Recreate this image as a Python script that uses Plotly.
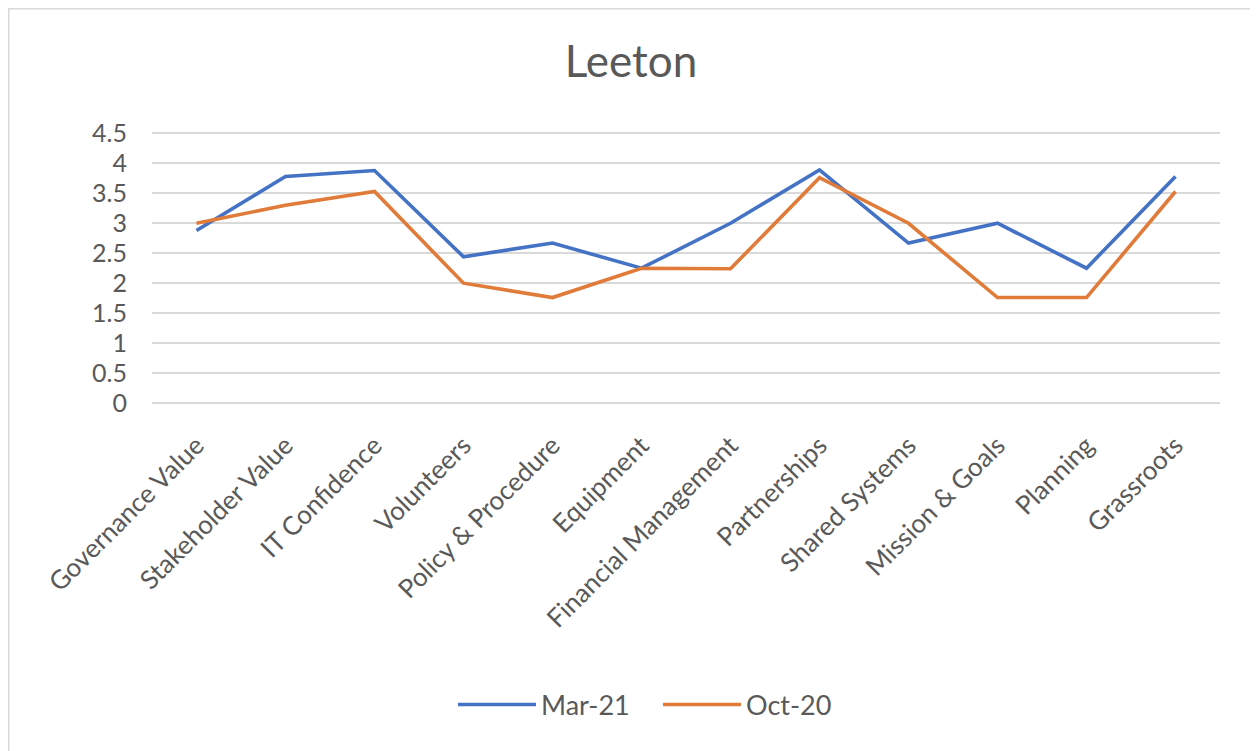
import plotly.graph_objects as go

categories = ["Governance Value", "Stakeholder Value", "IT Confidence", "Volunteers",
              "Policy & Procedure", "Equipment", "Financial Management", "Partnerships",
              "Shared Systems", "Mission & Goals", "Planning", "Grassroots"]
mar21 = [2.88, 3.78, 3.88, 2.44, 2.67, 2.25, 3.0, 3.89, 2.67, 3.0, 2.25, 3.78]
oct20 = [3.0, 3.3, 3.53, 2.0, 1.76, 2.25, 2.24, 3.76, 3.0, 1.76, 1.76, 3.53]
series_names = ["Mar-21", "Oct-20"]
y_ticks = [0, 0.5, 1, 1.5, 2, 2.5, 3, 3.5, 4, 4.5]

FONT = "Lato"
GRAY = "#595959"
GRID = "#D9D9D9"

fig = go.Figure()
fig.add_trace(go.Scatter(x=categories, y=mar21, mode="lines", name=series_names[0],
                         line=dict(color="#4472C4", width=3.6)))
fig.add_trace(go.Scatter(x=categories, y=oct20, mode="lines", name=series_names[1],
                         line=dict(color="#E07B39", width=3.6)))

# page has an 8px body margin; figure coordinates = page coordinates - 8
W, H = 1250, 743
L, R, T, B = 144, 38, 123, 348
pw = W - L - R
ph = H - T - B

fig.update_layout(
    width=W, height=H,
    margin=dict(l=L, r=R, t=T, b=B, autoexpand=False),
    paper_bgcolor="white", plot_bgcolor="white",
    font=dict(family=FONT, color=GRAY, size=24),
    title=dict(text="Leeton", x=623 / W, xref="container", xanchor="center",
               y=1 - 54 / H, yref="container", yanchor="middle",
               font=dict(family=FONT, size=44, color=GRAY)),
    showlegend=True,
    legend=dict(orientation="h", x=650 / W, xanchor="center", xref="container",
                y=1 - 697 / H, yref="container", yanchor="middle",
                font=dict(family=FONT, size=27, color=GRAY),
                itemwidth=78, entrywidth=112, bgcolor="rgba(0,0,0,0)"),
    xaxis=dict(type="category", range=[-0.5, len(categories) - 0.5], automargin=False,
               showgrid=False, showline=False, zeroline=False,
               tickangle=-45, ticks="outside", ticklen=16, tickcolor="rgba(0,0,0,0)",
               tickfont=dict(family=FONT, size=26, color=GRAY)),
    yaxis=dict(range=[0, 4.54], tickvals=y_ticks, showgrid=True, gridcolor=GRID,
               gridwidth=1.5, zeroline=True, zerolinecolor=GRID, zerolinewidth=1.5,
               showline=False, ticks="", ticklabelstandoff=24, automargin=False,
               tickfont=dict(family=FONT, size=25, color=GRAY)),
    shapes=[dict(type="rect", xref="paper", yref="paper",
                 x0=(0.75 - L) / pw, x1=(W + 20 - L) / pw,
                 y0=(T + ph - (H + 20)) / ph, y1=(T + ph - 0.75) / ph,
                 line=dict(color=GRID, width=1.5), fillcolor="rgba(0,0,0,0)", layer="below")],
)

fig.write_html("out.html")
